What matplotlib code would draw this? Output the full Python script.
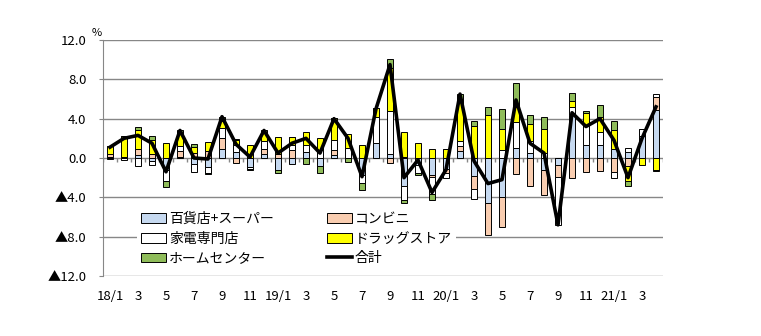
import numpy as np
import matplotlib
matplotlib.use("Agg")
import matplotlib.pyplot as plt

plt.rcParams['font.family'] = ['Noto Sans CJK JP', 'DejaVu Sans']

months = ["18/1", "18/2", "18/3", "18/4", "18/5", "18/6", "18/7", "18/8", "18/9", "18/10", "18/11", "18/12",
          "19/1", "19/2", "19/3", "19/4", "19/5", "19/6", "19/7", "19/8", "19/9", "19/10", "19/11", "19/12",
          "20/1", "20/2", "20/3", "20/4", "20/5", "20/6", "20/7", "20/8", "20/9", "20/10", "20/11", "20/12",
          "21/1", "21/2", "21/3", "21/4"]
tick_labels = ["18/1", "3", "5", "7", "9", "11", "19/1", "3", "5", "7", "9", "11",
               "20/1", "3", "5", "7", "9", "11", "21/1", "3"]

# contributions (percentage points)
dept_super = [0.1, 0.1, 0.35, -0.35, -1.2, 0.1, -0.6, -0.9, 0.9, 0.6, -0.9, 0.45,
              -1.25, -0.6, 0.6, -0.8, 0.3, 0.0, -1.7, 1.55, 0.37, -2.8, -0.7, -1.7,
              -1.1, 0.75, -1.8, -4.6, -4.0, 1.05, 0.55, -1.25, -0.75, 4.4, 1.35, 1.3,
              0.95, 0.6, 2.2, 4.9]
conveni = [0.3, 0.0, 0.6, 0.45, 0.0, 0.6, 0.5, 0.75, 1.1, -0.5, 0.0, 0.5,
           0.45, 0.8, 0.0, 0.0, 0.55, 0.0, 0.0, 0.0, -0.55, 0.1, 0.0, -0.2,
           -0.45, 0.5, -1.35, -3.2, -3.05, -1.6, -2.85, -2.55, -1.2, -2.05, -1.45, -1.35,
           -1.4, -0.8, 0.0, 1.3]
electronics = [-0.1, -0.2, -0.85, -0.35, -1.1, 0.5, -0.8, -0.6, 1.1, 0.7, -0.2, 0.8,
               0.0, 0.5, 0.7, 0.8, 1.0, 1.0, -0.85, 2.65, 4.4, -1.5, -0.8, -1.8,
               -0.5, 0.5, -1.0, 0.0, 0.8, 2.6, 1.15, 0.5, -4.9, 0.8, 2.05, 1.35,
               -0.6, 0.4, 0.8, 0.35]
drugstore = [0.8, 2.1, 1.9, 1.4, 1.5, 1.2, 0.6, 0.85, 0.7, 0.5, 1.3, 0.9,
             1.7, 0.8, 1.3, 1.2, 2.2, 1.4, 1.3, 0.85, 4.35, 2.5, 1.5, 0.9,
             0.9, 4.25, 3.3, 4.35, 2.2, 1.5, 1.8, 2.5, 0.0, 0.6, 1.2, 1.5,
             1.9, -1.5, -0.75, -1.25]
home_center = [0.0, 0.0, 0.35, 0.35, -0.6, 0.4, 0.3, -0.1, 0.4, 0.1, -0.15, 0.15,
               -0.3, 0.0, -0.6, -0.75, 0.0, -0.4, -0.7, 0.0, 0.95, -0.3, -0.2, -0.6,
               0.0, 0.5, 0.5, 0.85, 2.0, 2.45, 0.85, 1.2, 0.0, 0.85, 0.2, 1.25,
               0.95, -0.5, 0.0, -0.1]
total = [1.1, 2.0, 2.3, 1.5, -1.4, 2.8, 0.0, -0.1, 4.2, 1.4, 0.1, 2.8,
         0.5, 1.5, 2.0, 0.5, 4.0, 2.0, -1.9, 5.0, 9.5, -2.0, -0.2, -3.5,
         -1.2, 6.5, -0.3, -2.6, -2.2, 5.9, 1.5, 0.5, -6.8, 4.6, 3.2, 4.0,
         1.8, -2.0, 2.0, 5.2]

series = [("百貨店+スーパー", dept_super, "#C6D9F0"),
          ("コンビニ", conveni, "#F9CDB0"),
          ("家電専門店", electronics, "#FFFFFF"),
          ("ドラッグストア", drugstore, "#FFFF00"),
          ("ホームセンター", home_center, "#8FBC5A")]

fig = plt.figure(figsize=(7.61, 3.36), dpi=100)
ax = fig.add_axes([103 / 761, 1 - 276 / 336, 560 / 761, 236 / 336])

x = np.arange(len(months))
pos_bottom = np.zeros(len(months))
neg_bottom = np.zeros(len(months))
handles = {}
for name, vals, color in series:
    v = np.array(vals)
    bottom = np.where(v >= 0, pos_bottom, neg_bottom)
    b = ax.bar(x, v, 0.45, bottom=bottom, color=color, edgecolor="black",
               linewidth=0.7, label=name, zorder=3)
    handles[name] = b
    pos_bottom += np.where(v >= 0, v, 0)
    neg_bottom += np.where(v < 0, v, 0)

line, = ax.plot(x, total, color="black", linewidth=2.6, zorder=4, label="合計")

ax.set_xlim(-0.5, len(months) - 0.5)
ax.set_ylim(-12, 12)
yt = [-12, -8, -4, 0, 4, 8, 12]
ax.set_yticks(yt)
ax.set_yticklabels([f"▲{abs(v):.1f}" if v < 0 else f"{v:.1f}" for v in yt], fontsize=9.5)
for v in yt:
    ax.axhline(v, color="#878787", linewidth=1.0, zorder=1)

# category axis at zero with tick marks between months
ax.vlines(np.arange(len(months) + 1) - 0.5, -0.4, 0, color="#878787", linewidth=1.0, zorder=2)

ax.set_xticks(x[::2])
ax.set_xticklabels(tick_labels, fontsize=9.5)
ax.tick_params(axis="x", length=0, pad=10)
ax.tick_params(axis="y", length=3, color="#878787", pad=9)

for s in ["top", "right", "bottom"]:
    ax.spines[s].set_visible(False)
ax.spines["left"].set_color("#878787")

fig.text(97 / 761, 1 - 33 / 336, "%", fontsize=8, ha="center", va="center")

order = ["百貨店+スーパー", "家電専門店", "ホームセンター", "コンビニ", "ドラッグストア"]
hs = [handles[n] for n in order] + [line]
ls = order + ["合計"]
leg = ax.legend(hs, ls, ncol=2, loc="upper left", bbox_to_anchor=(34 / 560, 68 / 236),
                frameon=True, fontsize=10, handlelength=1.8, handletextpad=0.2,
                columnspacing=3.8, labelspacing=0.4, borderpad=0.3, borderaxespad=0)
leg.get_frame().set_edgecolor("none")
leg.get_frame().set_facecolor("white")
leg.get_frame().set_alpha(1)
leg.set_zorder(5)

fig.savefig("out.png", dpi=100)
